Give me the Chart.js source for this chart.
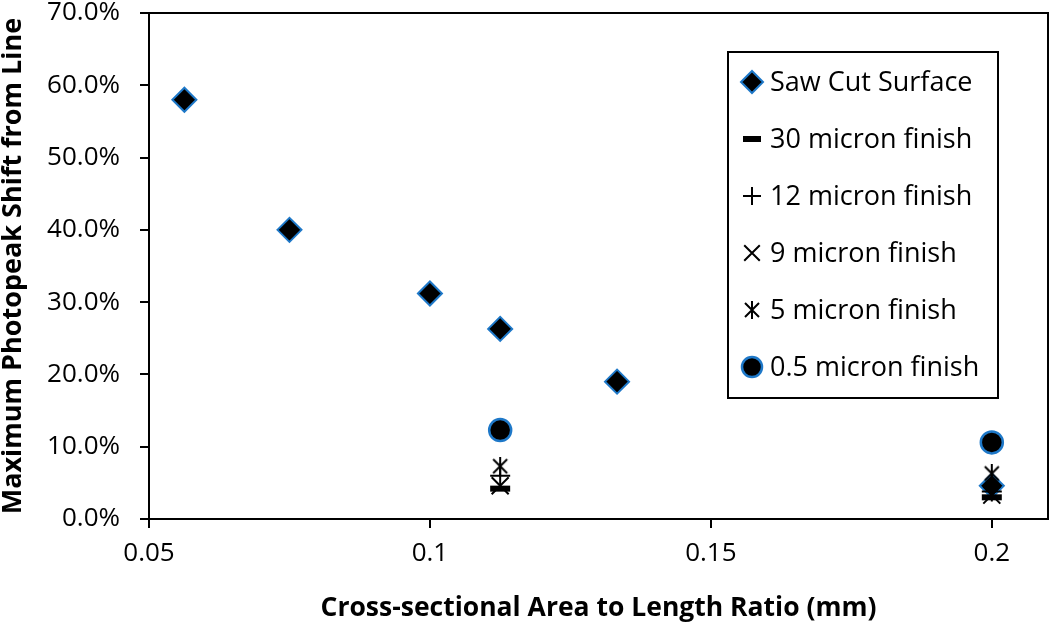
<!DOCTYPE html>
<html>
<head>
<meta charset="utf-8">
<script src="https://cdn.jsdelivr.net/npm/chart.js@4.4.1/dist/chart.umd.min.js"></script>
<style>
  html, body { margin: 0; padding: 0; background: #fff; }
  #wrap { width: 1050px; height: 624px; }
</style>
</head>
<body>
<div id="wrap"><canvas id="shiftChart" width="1050" height="624"></canvas></div>
<script>
// values (y in percent)
const sawX = [0.0563, 0.075, 0.1, 0.1125, 0.1333, 0.2];
const sawY = [58.0, 40.0, 31.2, 26.3, 19.0, 4.6];
const finishX = [0.1125, 0.2];
const micron30Y = [4.2, 3.0];
const micron12Y = [6.0, 3.8];
const micron9Y = [4.6, 3.3];
const micron5Y = [7.3, 6.3];
const micron05Y = [12.3, 10.6];
const xTicks = [0.05, 0.1, 0.15, 0.2];
const FONT = "Open Sans";
const BLUE = "#1e78c8";

// Excel-style asterisk: X plus vertical stroke
function makeAsterisk(size) {
  const c = document.createElement("canvas");
  c.width = size; c.height = size;
  const g = c.getContext("2d");
  g.strokeStyle = "#000"; g.lineWidth = 2;
  const m = 2, s = size - 2;
  g.beginPath();
  g.moveTo(m, m); g.lineTo(s, s);
  g.moveTo(s, m); g.lineTo(m, s);
  g.moveTo(size / 2, 0); g.lineTo(size / 2, size);
  g.stroke();
  return c;
}
const asterisk = makeAsterisk(18);

function pts(xs, ys) {
  return xs.map((x, i) => ({ x: x, y: ys[i] }));
}

// order: saw cut painted first, 0.5 micron last (on top)
const datasets = [
  { label: "Saw Cut Surface", data: pts(sawX, sawY), pointStyle: "rectRot", order: 5,
    pointRadius: 12, backgroundColor: "#000", borderColor: BLUE, borderWidth: 2 },
  { label: "30 micron finish", data: pts(finishX, micron30Y), pointStyle: "line", order: 4,
    pointRadius: 10, backgroundColor: "#000", borderColor: "#000", borderWidth: 6 },
  { label: "12 micron finish", data: pts(finishX, micron12Y), pointStyle: "cross", order: 3,
    pointRadius: 10, backgroundColor: "#000", borderColor: "#000", borderWidth: 2 },
  { label: "9 micron finish", data: pts(finishX, micron9Y), pointStyle: "crossRot", order: 2,
    pointRadius: 12, backgroundColor: "#000", borderColor: "#000", borderWidth: 2 },
  { label: "5 micron finish", data: pts(finishX, micron5Y), pointStyle: asterisk, order: 1,
    pointRadius: 9, backgroundColor: "#000", borderColor: "#000", borderWidth: 2 },
  { label: "0.5 micron finish", data: pts(finishX, micron05Y), pointStyle: "circle", order: 0,
    pointRadius: 11, backgroundColor: "#000", borderColor: BLUE, borderWidth: 2.5 },
];

// box around plot area + legend box inside it
const frameAndLegend = {
  id: "frameAndLegend",
  afterDraw(chart) {
    const ctx = chart.ctx;
    const a = chart.chartArea;
    ctx.save();
    ctx.strokeStyle = "#000";
    ctx.lineWidth = 2;
    ctx.strokeRect(a.left, a.top, a.right - a.left, a.bottom - a.top);

    const bx = 728, by = 52, bw = 270, bh = 346;
    ctx.fillStyle = "#fff";
    ctx.fillRect(bx, by, bw, bh);
    ctx.strokeRect(bx, by, bw, bh);
    ctx.font = "27px " + FONT;
    ctx.textBaseline = "middle";
    chart.data.datasets.forEach((ds, i) => {
      const y = 82 + i * 57;
      ctx.fillStyle = ds.backgroundColor;
      ctx.strokeStyle = ds.borderColor;
      ctx.lineWidth = ds.borderWidth;
      Chart.helpers.drawPoint(ctx, {
        pointStyle: ds.pointStyle, radius: ds.pointRadius - 1,
        borderWidth: ds.borderWidth, rotation: 0
      }, 752, y);
      ctx.fillStyle = "#000";
      ctx.fillText(ds.label, 770, y + 1);
    });
    ctx.restore();
  }
};

new Chart(document.getElementById("shiftChart"), {
  type: "scatter",
  data: { datasets: datasets },
  plugins: [frameAndLegend],
  options: {
    responsive: false,
    animation: false,
    layout: { autoPadding: false, padding: { top: 13, right: 2, left: 0, bottom: 0 } },
    plugins: { legend: { display: false }, tooltip: { enabled: false } },
    scales: {
      x: {
        type: "linear",
        min: 0.05,
        max: 0.21,
        afterBuildTicks: (s) => { s.ticks = xTicks.map((v) => ({ value: v })); },
        afterFit: (s) => { s.height = 105; s.paddingLeft = 0; s.paddingRight = 0; },
        ticks: {
          color: "#000",
          font: { family: FONT, size: 26 },
          padding: 10,
          callback: (v) => String(Math.round(v * 100) / 100),
        },
        grid: { drawOnChartArea: false, color: "#000", tickLength: 9, lineWidth: 2 },
        border: { color: "#000", width: 2 },
        title: {
          display: true,
          text: "Cross-sectional Area to Length Ratio (mm)",
          color: "#000",
          font: { family: FONT, size: 26.5, weight: "bold" },
          padding: { top: 0, bottom: 0 },
        },
      },
      y: {
        min: 0,
        max: 70,
        afterFit: (s) => { s.width = 149; s.paddingTop = 0; s.paddingBottom = 0; },
        ticks: {
          stepSize: 10,
          color: "#000",
          font: { family: FONT, size: 26, lineHeight: 1 },
          padding: 20,
          callback: (v) => v.toFixed(1) + "%",
        },
        grid: { drawOnChartArea: false, color: "#000", tickLength: 9, lineWidth: 2 },
        border: { color: "#000", width: 2 },
        title: {
          display: true,
          text: "Maximum Photopeak Shift from Line",
          color: "#000",
          font: { family: FONT, size: 27, weight: "bold" },
          padding: { top: -3, bottom: 0 },
        },
      },
    },
  },
});
</script>
</body>
</html>
